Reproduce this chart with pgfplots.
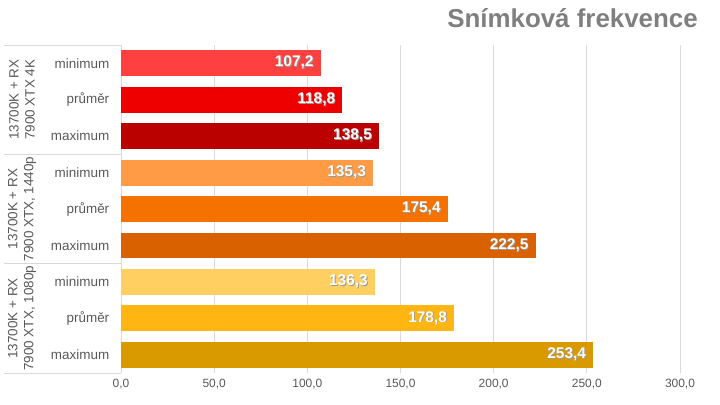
\documentclass[border=0pt]{standalone}
\usepackage{pgfplots}
\pgfplotsset{compat=1.18}
\usepackage{fontspec}
\setmainfont{Liberation Sans}

\definecolor{kmin}{HTML}{FF4040}
\definecolor{kavg}{HTML}{EE0000}
\definecolor{kmax}{HTML}{BB0000}
\definecolor{qmin}{HTML}{FF9A45}
\definecolor{qavg}{HTML}{F57200}
\definecolor{qmax}{HTML}{D96100}
\definecolor{fmin}{HTML}{FFCF62}
\definecolor{favg}{HTML}{FFB612}
\definecolor{fmax}{HTML}{D99A00}
\definecolor{gridc}{HTML}{D9D9D9}
\definecolor{labc}{HTML}{595959}
\definecolor{titc}{HTML}{7F7F7F}

% white value label with a soft dark shadow
\newcommand\shtext[1]{\rlap{\kern0.9bp\raisebox{-0.9bp}{\color{black!40}#1}}#1}

\begin{document}
\begin{tikzpicture}
\begin{axis}[
    name=ax,
    scale only axis,
    width=559bp, height=328bp,
    xmin=0, xmax=300,
    ymin=-0.5, ymax=8.5,
    y dir=reverse,
    xbar, bar width=0.71, bar shift=0pt,
    axis line style={draw=none},
    tick style={draw=none},
    xmajorgrids,
    grid style={gridc, line width=0.8bp},
    xtick={0,50,...,300},
    ytick={0,...,8},
    yticklabels={minimum,průměr,maximum,minimum,průměr,maximum,minimum,průměr,maximum},
    yticklabel style={font=\fontsize{13.5}{15}\selectfont, text=labc, xshift=-4bp},
    xticklabel style={font=\fontsize{12}{14}\selectfont, text=labc, yshift=-3bp},
    /pgf/number format/.cd, fixed, fixed zerofill, precision=1, use comma, assume math mode=true,
    /pgfplots/.cd,
    clip=false,
    nodes near coords={\shtext{\pgfmathprintnumber{\pgfplotspointmeta}}},
    every node near coord/.append style={anchor=east, text=white,
        font=\fontsize{15.5}{16}\selectfont\bfseries, inner sep=2bp, xshift=-5bp},
]
\addplot[draw=none, fill=kmin] coordinates {(107.2,0)};
\addplot[draw=none, fill=kavg] coordinates {(118.8,1)};
\addplot[draw=none, fill=kmax] coordinates {(138.5,2)};
\addplot[draw=none, fill=qmin] coordinates {(135.3,3)};
\addplot[draw=none, fill=qavg] coordinates {(175.4,4)};
\addplot[draw=none, fill=qmax] coordinates {(222.5,5)};
\addplot[draw=none, fill=fmin] coordinates {(136.3,6)};
\addplot[draw=none, fill=favg] coordinates {(178.8,7)};
\addplot[draw=none, fill=fmax] coordinates {(253.4,8)};

% frame of the category area
\pgfplotsinvokeforeach{-0.5,2.5,5.5,8.5}{
  \draw[gridc, line width=0.8bp] (axis cs:0,#1) -- ([xshift=-117bp]axis cs:0,#1);
}
\node[rotate=90, align=center, text=labc, font=\fontsize{13.5}{16}\selectfont]
  at ([xshift=-99bp]axis cs:0,1) {13700K + RX\\7900 XTX 4K};
\node[rotate=90, align=center, text=labc, font=\fontsize{13.5}{16}\selectfont]
  at ([xshift=-99bp]axis cs:0,4) {13700K + RX\\7900 XTX, 1440p};
\node[rotate=90, align=center, text=labc, font=\fontsize{13.5}{16}\selectfont]
  at ([xshift=-99bp]axis cs:0,7) {13700K + RX\\7900 XTX, 1080p};
\end{axis}
\node[anchor=base east, inner sep=0pt, text=titc, font=\fontsize{26}{28}\selectfont\bfseries]
  at ([shift={(577bp,345bp)}]ax.south west) {Snímková frekvence};
\path ([shift={(-121bp,-32bp)}]ax.south west) rectangle ([shift={(599bp,373bp)}]ax.south west);
\end{tikzpicture}
\end{document}
